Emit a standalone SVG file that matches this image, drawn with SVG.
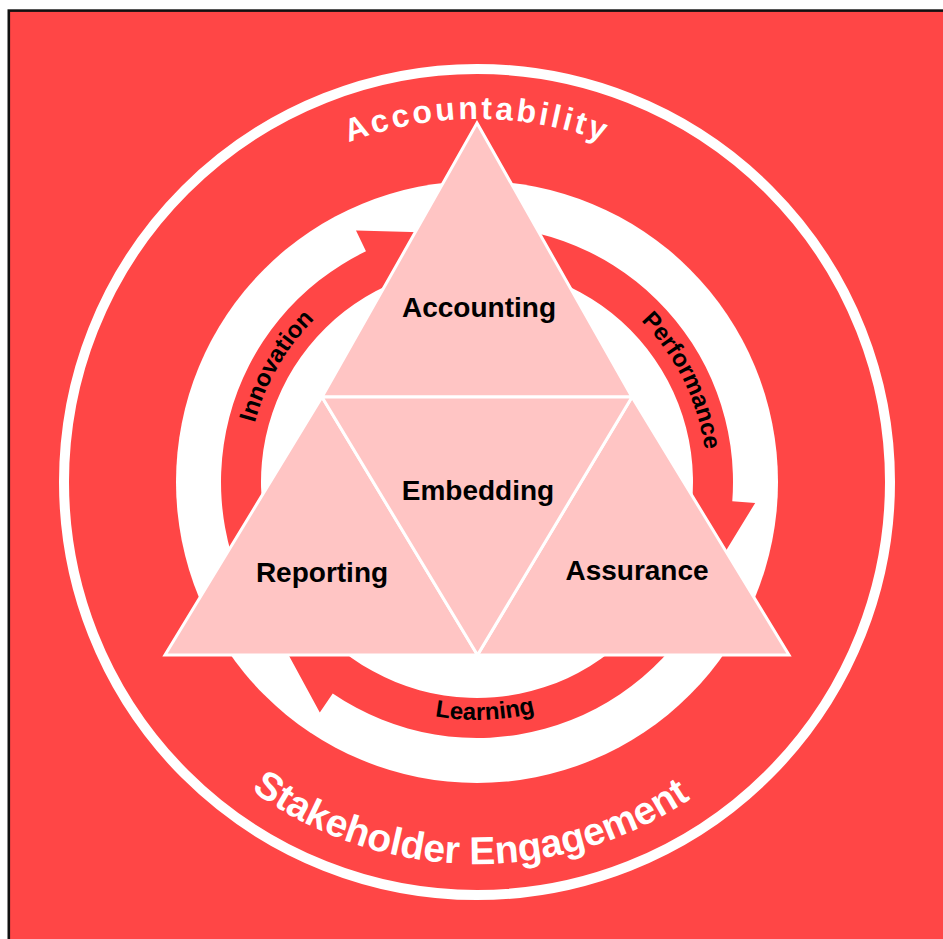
<svg xmlns="http://www.w3.org/2000/svg" width="943" height="939" viewBox="0 0 943 939">
<style>
  .bg{fill:#FF4646;stroke:#111111;stroke-width:2.6}
  .tri{fill:#FFC5C4;stroke:#FFFFFF;stroke-width:3;stroke-linejoin:miter}
  .lbl{font-family:"Liberation Sans",Arial,sans-serif;font-weight:bold;font-size:28px;fill:#000000;text-anchor:middle}
  .alb{font-family:"Liberation Sans",Arial,sans-serif;font-weight:bold;font-size:24px;fill:#000000;text-anchor:middle}
  .big{font-family:"Liberation Sans",Arial,sans-serif;font-weight:bold;fill:#FFFFFF;text-anchor:middle}
  .arrow{fill:#FF4646}
</style>
<defs>
  <path id="arrowShape" d="M 454.69 226.98 A 256 256 0 0 1 732.28 501.19 L 755.2 502.9 L 697.8 596.7 L 688.04 528.01 A 216 216 0 0 0 458.17 266.82 Z"/>
  <path id="pAcc" d="M 162.6 300.5 A 363 363 0 0 1 791.4 300.5"/>
  <path id="pStake" d="M 115.6 605.7 A 382 382 0 0 0 833.4 619.5"/>
  <path id="pLearn" d="M 275.2 608.1 A 238 238 0 0 0 687.1 593.7"/>
  <path id="pInno" d="M 277.8 597 A 230 230 0 0 1 477 252"/>
  <path id="pPerf" d="M 491.8 252.5 A 230 230 0 0 1 668.4 609.6"/>
</defs>
<rect x="0" y="0" width="943" height="939" fill="#FFFFFF"/>
<rect class="bg" x="8.8" y="10.6" width="960" height="960"/>
<g id="rings">
  <circle cx="477" cy="482" r="413" fill="none" stroke="#FFFFFF" stroke-width="10"/>
  <circle cx="477" cy="482" r="301" fill="#FFFFFF"/>
</g>
<g id="connectors">
  <use href="#arrowShape" class="arrow"/>
  <use href="#arrowShape" class="arrow" transform="rotate(120 477 482)"/>
  <use href="#arrowShape" class="arrow" transform="rotate(240 477 482)"/>
  <text class="alb"><textPath href="#pPerf" startOffset="50%">Performance</textPath></text>
  <text class="alb"><textPath href="#pLearn" startOffset="50%">Learning</textPath></text>
  <text class="alb"><textPath href="#pInno" startOffset="50%">Innovation</textPath></text>
</g>
<g id="node-accounting">
  <polygon class="tri" points="477,123 632,397 322,397"/>
  <text class="lbl" x="479" y="317">Accounting</text>
</g>
<g id="node-reporting">
  <polygon class="tri" points="322,397 477.5,655 165,655"/>
  <text class="lbl" x="322" y="582">Reporting</text>
</g>
<g id="node-assurance">
  <polygon class="tri" points="632,397 789,655 477.5,655"/>
  <text class="lbl" x="637" y="580">Assurance</text>
</g>
<g id="node-embedding">
  <polygon class="tri" points="322,397 632,397 477.5,655"/>
  <text class="lbl" x="478" y="500">Embedding</text>
</g>
<g id="ring-labels">
  <text class="big" font-size="32" letter-spacing="3"><textPath href="#pAcc" startOffset="50%">Accountability</textPath></text>
  <text class="big" font-size="39"><textPath href="#pStake" startOffset="50%">Stakeholder Engagement</textPath></text>
</g>
</svg>
